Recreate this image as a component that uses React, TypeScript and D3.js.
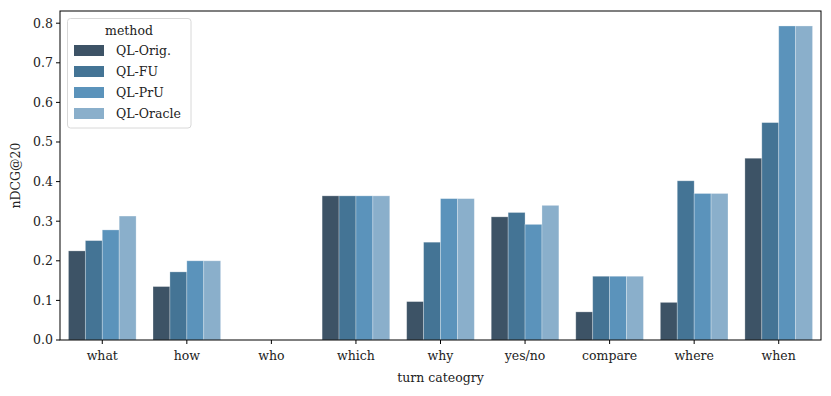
import React from "react";
import * as d3 from "d3";

const categories = ["what", "how", "who", "which", "why", "yes/no", "compare", "where", "when"];
const methods = ["QL-Orig.", "QL-FU", "QL-PrU", "QL-Oracle"];
const qlOrig = [0.225, 0.135, 0, 0.364, 0.097, 0.311, 0.071, 0.095, 0.459];
const qlFU = [0.251, 0.172, 0, 0.364, 0.247, 0.322, 0.161, 0.402, 0.549];
const qlPrU = [0.278, 0.2, 0, 0.364, 0.357, 0.292, 0.161, 0.37, 0.793];
const qlOracle = [0.313, 0.2, 0, 0.364, 0.357, 0.34, 0.161, 0.37, 0.793];
const yTicks = [0, 0.1, 0.2, 0.3, 0.4, 0.5, 0.6, 0.7, 0.8];
const colors = ["#3d5366", "#447495", "#5b93bb", "#8aafcb"];

const series = [qlOrig, qlFU, qlPrU, qlOracle];

export default function App() {
  const W = 831, H = 396;
  const left = 60, right = 821, top = 11, bottom = 340;
  const font = "'DejaVu Serif', serif";
  const x = d3.scaleBand<string>().domain(categories).range([left, right]).paddingInner(0.2).paddingOuter(0.1);
  const x0 = d3.scaleBand<string>().domain(categories).range([left, right]);
  const inner = d3.scaleBand<string>().domain(methods).range([0, x.bandwidth()]);
  const y = d3.scaleLinear().domain([0, 0.8308]).range([bottom, top]);
  return (
    <svg width={W} height={H} style={{ position: "absolute", left: 0, top: 0, background: "#fff" }} fontFamily={font}>
      {series.map((vals, si) =>
        vals.map((v, ci) => {
          const bx = x0(categories[ci])! + x0.bandwidth() * 0.1 + inner(methods[si])!;
          return (
            <rect key={`${si}-${ci}`} x={bx} y={y(v)} width={inner.bandwidth()} height={y(0) - y(v)}
              fill={colors[si]} stroke="#ffffff" strokeOpacity={0.35} strokeWidth={0.8} />
          );
        })
      )}
      <rect x={left} y={top} width={right - left} height={bottom - top} fill="none" stroke="#000" strokeWidth={1} />
      {yTicks.map((t) => (
        <g key={t}>
          <line x1={left - 4} x2={left} y1={y(t)} y2={y(t)} stroke="#000" />
          <text x={left - 7} y={y(t)} dy="0.35em" textAnchor="end" fontSize={12.5} fill="#222">{t.toFixed(1)}</text>
        </g>
      ))}
      {categories.map((c) => (
        <g key={c}>
          <line x1={x0(c)! + x0.bandwidth() / 2} x2={x0(c)! + x0.bandwidth() / 2} y1={bottom} y2={bottom + 4} stroke="#000" />
          <text x={x0(c)! + x0.bandwidth() / 2} y={bottom + 20} textAnchor="middle" fontSize={12.5} fill="#222">{c}</text>
        </g>
      ))}
      <text x={(left + right) / 2} y={382} textAnchor="middle" fontSize={12.5} fill="#222">turn cateogry</text>
      <text transform={`translate(20,${(top + bottom) / 2}) rotate(-90)`} textAnchor="middle" fontSize={12.5} fill="#222">nDCG@20</text>
      <g>
        <rect x={67.5} y={18.5} width={123.5} height={109.5} rx={3} fill="#fff" fillOpacity={0.8} stroke="#d8d8d8" />
        <text x={129} y={35} textAnchor="middle" fontSize={12.5} fill="#222">method</text>
        {methods.map((m, i) => (
          <g key={m}>
            <rect x={74} y={45 + i * 21} width={30} height={11} fill={colors[i]} />
            <text x={116} y={50.5 + i * 21} dy="0.35em" fontSize={12.5} fill="#222">{m}</text>
          </g>
        ))}
      </g>
    </svg>
  );
}
